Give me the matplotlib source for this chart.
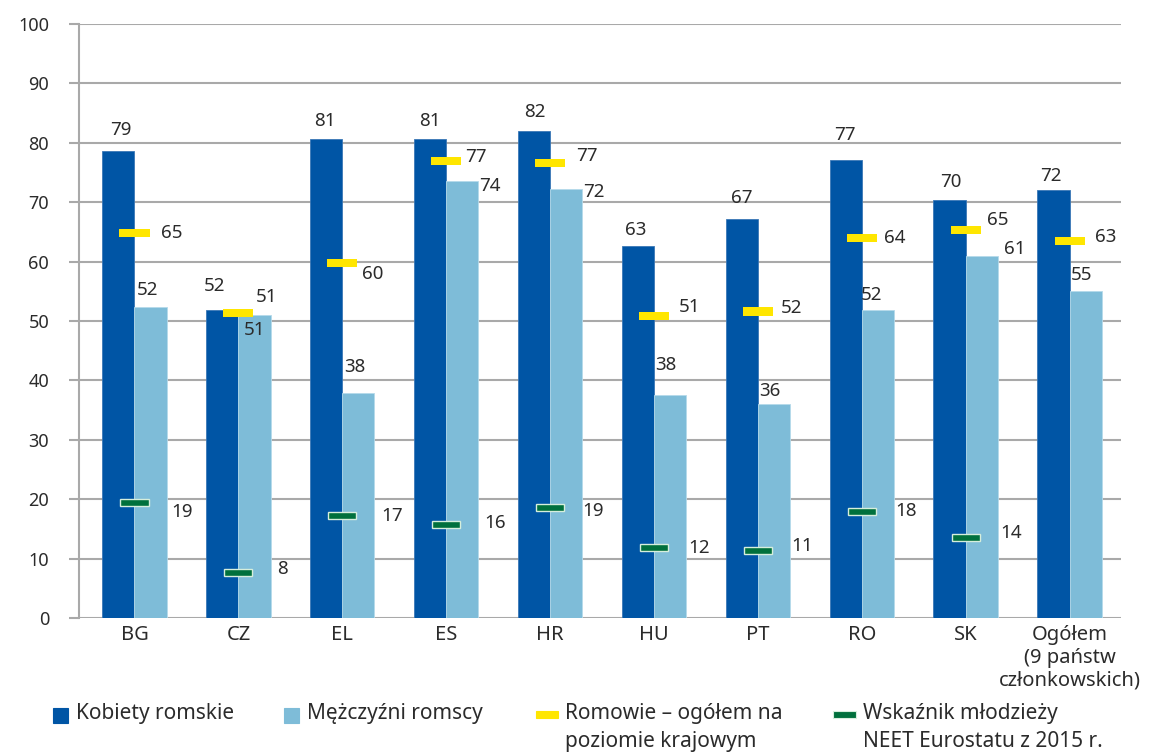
import matplotlib
matplotlib.use("Agg")
import matplotlib.pyplot as plt
import numpy as np
from matplotlib.patches import Rectangle

plt.rcParams['font.family'] = ['Noto Sans', 'DejaVu Sans']

categories = ["BG", "CZ", "EL", "ES", "HR", "HU", "PT", "RO", "SK",
              "Ogółem\n(9 państw\nczłonkowskich)"]
women = [78.6, 51.9, 80.6, 80.6, 82.0, 62.7, 67.2, 77.1, 70.4, 72.1]
men = [52.4, 51.0, 37.9, 73.6, 72.2, 37.6, 36.0, 51.9, 60.9, 55.1]
roma_total = [64.8, 51.3, 59.8, 76.9, 76.6, 50.8, 51.6, 64.0, 65.3, 63.4]
neet = [19.4, 7.7, 17.2, 15.8, 18.6, 11.8, 11.3, 18.0, 13.6, np.nan]

legend_labels = ["Kobiety romskie", "Mężczyźni romscy",
                 "Romowie – ogółem na\npoziomie krajowym",
                 "Wskaźnik młodzieży\nNEET Eurostatu z 2015 r."]

# label offsets in pixels (dx, dy up), placement only
women_off = [(2, 21), (-8, 24), (-1, 18), (0, 18), (1, 19), (-2, 16), (0, 21), (-1, 25), (1, 18), (-3, 14)]
men_off = [(-3, 17), (0, -15), (-4, 26), (28, -5), (28, -3), (-4, 30), (-4, 13), (-6, 15), (33, 7), (-4, 16)]
roma_off = [(37, 0), (28, 16), (30, -11), (30, 4), (37, 7), (36, 9), (34, 3), (33, 0), (32, 10), (36, 4)]
neet_off = [(48, -9), (44, 3), (50, 0), (49, 1), (43, -3), (45, 0), (44, 5), (44, 0), (45, 4), (0, 0)]

dark = "#0055a5"
light = "#7ebcd8"
yellow = "#ffe600"
green = "#00703c"
grid = "#a9a9a9"
txt = "#2b2b2b"

fig = plt.figure(figsize=(11.49, 7.54), dpi=100)
ax = fig.add_axes([79 / 1149, 1 - 618 / 754, (1121 - 79) / 1149, (618 - 24) / 754])

x = np.arange(len(categories))
w = 0.31
ax.bar(x, women, width=-w, align="edge", color=dark, edgecolor="#3a77b6", linewidth=0.6, zorder=3)
ax.bar(x, men, width=w, align="edge", color=light, edgecolor="#b5daea", linewidth=0.6, zorder=3)

rt = np.array(roma_total)
ax.bar(x, 1.35, bottom=rt - 0.675, width=0.29, color=yellow, linewidth=0, zorder=4)
nt = np.array(neet)
ax.bar(x, 1.2, bottom=nt - 0.6, width=0.27, color=green, edgecolor="#d6eedc", linewidth=1, zorder=4)

fs = 13.5
for i in x:
    ax.annotate(f"{women[i]:.0f}", (i - w / 2, women[i]), xytext=women_off[i],
                textcoords="offset pixels", ha="center", va="center", fontsize=fs, color=txt, zorder=5)
    ax.annotate(f"{men[i]:.0f}", (i + w / 2, men[i]), xytext=men_off[i],
                textcoords="offset pixels", ha="center", va="center", fontsize=fs, color=txt, zorder=5)
    ax.annotate(f"{roma_total[i]:.0f}", (i, roma_total[i]), xytext=roma_off[i],
                textcoords="offset pixels", ha="center", va="center", fontsize=fs, color=txt, zorder=5)
    if not np.isnan(neet[i]):
        ax.annotate(f"{neet[i]:.0f}", (i, neet[i]), xytext=neet_off[i],
                    textcoords="offset pixels", ha="center", va="center", fontsize=fs, color=txt, zorder=5)

ax.set_xlim(-0.534, 9.495)
ax.set_ylim(0, 100)
ax.set_yticks(np.arange(0, 101, 10))
ax.yaxis.grid(True, color=grid, linewidth=1.5, zorder=0)
ax.set_axisbelow(True)
for s in ("top", "right", "bottom"):
    ax.spines[s].set_visible(False)
ax.spines["left"].set_color(grid)
ax.spines["left"].set_linewidth(1.5)
ax.tick_params(axis="y", length=7.5, width=1.5, color=grid, pad=14, labelsize=13, labelcolor=txt)
ax.set_xticks(x)
ax.set_xticklabels(categories, fontsize=14.5, color=txt, linespacing=1.2)
ax.tick_params(axis="x", length=0, pad=5)
for lab in ax.get_xticklabels():
    lab.set_multialignment("center")

# legend drawn by hand to keep the original spacing
W, H = 1149, 754
handles = [
    (53, 708, 15, 15, dark, None),
    (284, 708, 15, 15, light, None),
    (536, 711, 22, 7, yellow, None),
    (833, 711, 23, 7, green, "#d6eedc"),
]
text_x = [76, 307, 565, 863]
for (hx, hy, hw, hh, c, ec), lbl, tx in zip(handles, legend_labels, text_x):
    fig.patches.append(Rectangle((hx / W, 1 - (hy + hh) / H), hw / W, hh / H,
                                 transform=fig.transFigure, facecolor=c,
                                 edgecolor=ec if ec else c, linewidth=0.8))
    fig.text(tx / W, 1 - 703 / H, lbl, ha="left", va="top", fontsize=15,
             color=txt, linespacing=1.45)

fig.savefig("out.png", dpi=100)
